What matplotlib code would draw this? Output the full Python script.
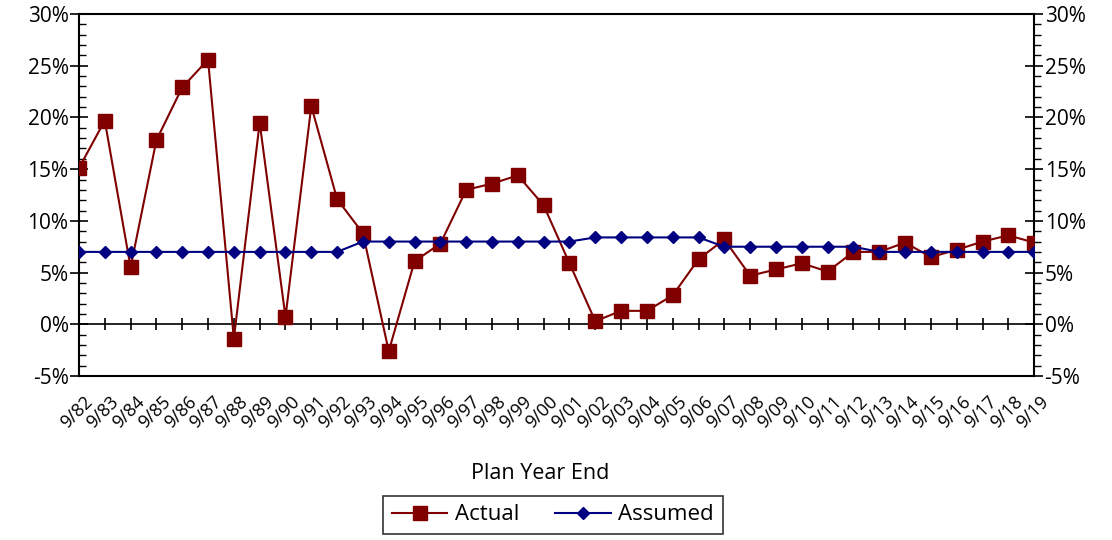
import matplotlib
matplotlib.use('Agg')
import matplotlib.pyplot as plt
import matplotlib.transforms as mtransforms
from matplotlib.ticker import MultipleLocator, FuncFormatter

plt.rcParams['font.family'] = ['Open Sans', 'DejaVu Sans']

years = ['9/82', '9/83', '9/84', '9/85', '9/86', '9/87', '9/88', '9/89', '9/90', '9/91',
         '9/92', '9/93', '9/94', '9/95', '9/96', '9/97', '9/98', '9/99', '9/00', '9/01',
         '9/02', '9/03', '9/04', '9/05', '9/06', '9/07', '9/08', '9/09', '9/10', '9/11',
         '9/12', '9/13', '9/14', '9/15', '9/16', '9/17', '9/18', '9/19']

actual = [15.1, 19.7, 5.5, 17.8, 22.9, 25.6, -1.4, 19.5, 0.7, 21.1,
          12.1, 8.8, -2.6, 6.1, 7.8, 13.0, 13.6, 14.4, 11.5, 5.9,
          0.3, 1.3, 1.3, 2.8, 6.3, 8.2, 4.7, 5.3, 5.9, 5.1,
          7.0, 7.0, 7.9, 6.5, 7.2, 8.0, 8.6, 7.9]

assumed = [7.0, 7.0, 7.0, 7.0, 7.0, 7.0, 7.0, 7.0, 7.0, 7.0,
           7.0, 8.0, 8.0, 8.0, 8.0, 8.0, 8.0, 8.0, 8.0, 8.0,
           8.4, 8.4, 8.4, 8.4, 8.4, 7.5, 7.5, 7.5, 7.5, 7.5,
           7.5, 7.0, 7.0, 7.0, 7.0, 7.0, 7.0, 7.0]

x = list(range(len(years)))
pct = FuncFormatter(lambda v, p: f'{v:.0f}%')

fig = plt.figure(figsize=(11.12, 5.4), dpi=100)
ax = fig.add_axes([0.071, 0.3037, 0.859, 0.6703])

ax.plot(x, actual, color='#800000', linewidth=1.5, marker='s', markersize=9.5, label='Actual', zorder=3)
ax.plot(x, assumed, color='#000080', linewidth=1.5, marker='D', markersize=6.5, label='Assumed', zorder=4)

ax.set_xlim(0, len(years) - 1)
ax.set_ylim(-5, 30)

# zero line carries the x ticks
ax.spines['bottom'].set_position(('data', 0))
ax.spines['bottom'].set_linewidth(1.2)
ax.set_xticks(x)
ax.tick_params(axis='x', direction='inout', length=9, width=1.2, labelbottom=False)

for s in ['left', 'right', 'top']:
    ax.spines[s].set_linewidth(1.5)

ax.yaxis.set_major_locator(MultipleLocator(5))
ax.yaxis.set_minor_locator(MultipleLocator(1))
ax.yaxis.set_major_formatter(pct)
ax.tick_params(axis='y', which='major', direction='inout', length=13, width=1.2, labelsize=15, pad=1)
ax.tick_params(axis='y', which='minor', direction='in', length=5, width=1)

# bottom frame with the year labels
sec = ax.secondary_xaxis(0)
sec.set_xticks(x)
sec.set_xticklabels(years, rotation=45, ha='right', rotation_mode='anchor', fontsize=13)
sec.tick_params(length=0, pad=12)
sec.spines['bottom'].set_linewidth(1.5)
shift = mtransforms.ScaledTranslation(5 / 100, 0, fig.dpi_scale_trans)
for lbl in sec.get_xticklabels():
    lbl.set_transform(lbl.get_transform() + shift)

ax2 = ax.twinx()
ax2.set_ylim(-5, 30)
ax2.yaxis.set_major_locator(MultipleLocator(5))
ax2.yaxis.set_minor_locator(MultipleLocator(1))
ax2.yaxis.set_major_formatter(pct)
ax2.tick_params(axis='y', which='major', direction='inout', length=13, width=1.2, labelsize=15, pad=1)
ax2.tick_params(axis='y', which='minor', direction='out', length=5, width=1)
for s in ax2.spines.values():
    s.set_visible(False)

fig.text(0.486, 0.124, 'Plan Year End', ha='center', va='center', fontsize=15.5)

leg = ax.legend(loc='center', bbox_to_anchor=(553 / 1112, 1 - 515 / 540),
                bbox_transform=fig.transFigure, ncol=2, fontsize=16, frameon=True,
                fancybox=False, edgecolor='black', handlelength=2.5, columnspacing=1.6,
                handletextpad=0.35, borderpad=0.4)
leg.get_frame().set_linewidth(1.2)

fig.savefig('out.png', dpi=100)
